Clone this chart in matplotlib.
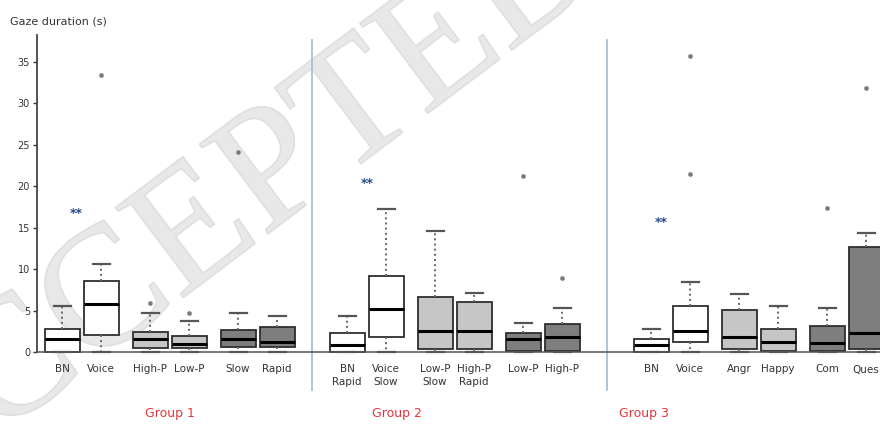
import numpy as np
import matplotlib
matplotlib.use('Agg')
import matplotlib.pyplot as plt
import matplotlib.patheffects as pe

# ---------------- data ----------------
group_names = ['Group 1', 'Group 2', 'Group 3']
labels = ['BN', 'Voice', 'High-P', 'Low-P', 'Slow', 'Rapid',
          'BN\nRapid', 'Voice\nSlow', 'Low-P\nSlow', 'High-P\nRapid', 'Low-P', 'High-P',
          'BN', 'Voice', 'Angr', 'Happy', 'Com', 'Ques']

q1 = [0.0, 2.05, 0.5, 0.45, 0.6, 0.6,
      0.05, 1.85, 0.4, 0.4, 0.1, 0.1,
      0.0, 1.17, 0.4, 0.1, 0.1, 0.4]
med = [1.62, 5.8, 1.57, 0.94, 1.62, 1.24,
       0.89, 5.19, 2.57, 2.57, 1.62, 1.77,
       0.89, 2.53, 1.85, 1.24, 1.05, 2.26]
q3 = [2.75, 8.5, 2.35, 1.93, 2.65, 3.05,
      2.33, 9.2, 6.6, 5.98, 2.33, 3.38,
      1.57, 5.55, 5.07, 2.74, 3.18, 12.6]
whis_hi = [5.5, 10.6, 4.67, 3.74, 4.67, 4.38,
           4.38, 17.2, 14.6, 7.15, 3.53, 5.27,
           2.77, 8.48, 6.96, 5.55, 5.27, 14.4]
whis_lo = [0.0] * 18
fliers = [[], [33.4], [5.87], [4.75], [24.1], [],
          [], [], [], [], [21.2], [8.89],
          [], [35.7, 21.5], [], [], [17.3], [31.8]]

# significance marks (y value) per group
star_y = [16.7, 20.3, 15.6]

# ---------------- layout ----------------
group_x0 = [62, 347, 651]
pair_step = 88
in_pair = 39
positions = []
for g0 in group_x0:
    for p in range(3):
        positions.append(g0 + p * pair_step)
        positions.append(g0 + p * pair_step + in_pair)
group_label_x = [170, 397, 644]
star_dx = [14, 20, 10]
pair_colors = ['#ffffff', '#c6c6c6', '#7e7e7e']

fig = plt.figure(figsize=(8.8, 4.26), dpi=100)

# faint watermark behind the plot
fig.text(0.258, 0.50, 'ACCEPTED', rotation=37, fontsize=124, color='#e2e2e2', alpha=0.4,
         family='Liberation Serif', ha='center', va='center', zorder=-1,
         path_effects=[pe.withStroke(linewidth=1.2, foreground='#cfcfcf', alpha=0.6)])

ax = fig.add_axes([37 / 880, 1 - 352 / 426, 1 - 37 / 880, (352 - 35) / 426])
ax.patch.set_alpha(0)

stats = []
for i in range(len(labels)):
    stats.append(dict(med=med[i], q1=q1[i], q3=q3[i], whislo=whis_lo[i],
                      whishi=whis_hi[i], fliers=fliers[i]))

res = ax.bxp(stats, positions=positions, widths=35, patch_artist=True,
             capwidths=17, manage_ticks=False,
             boxprops=dict(edgecolor='#2e2e2e', linewidth=1.3),
             medianprops=dict(color='black', linewidth=2.2),
             whiskerprops=dict(color='#666666', linestyle=':', linewidth=1.4),
             capprops=dict(color='#555555', linewidth=1.6),
             flierprops=dict(marker='o', markersize=3, markerfacecolor='#777777',
                             markeredgecolor='#999999', markeredgewidth=0.5))

for i, box in enumerate(res['boxes']):
    box.set_facecolor(pair_colors[(i % 6) // 2])
for key in res:
    for art in res[key]:
        art.set_clip_on(False)

# significance stars
for g in range(3):
    ax.text(group_x0[g] + star_dx[g], star_y[g], '**', color='#2c4a8c', fontsize=9,
            fontweight='bold', ha='center', va='center')

# group separators
for g in range(2):
    sx = (positions[6 * g + 5] + positions[6 * (g + 1)]) / 2
    ax.axvline(sx, ymin=-0.12, ymax=0.985, color='#a9bfdc', linewidth=1.3, clip_on=False)

# group labels
for g in range(3):
    ax.text(group_label_x[g], -7.4, group_names[g], color='#e8343c', fontsize=9,
            ha='center', va='center')

ax.set_xlim(37, 880)
ax.set_ylim(0, 38.2)
ax.set_xticks(positions)
ax.set_xticklabels(labels, fontsize=7.5, color='#333333', linespacing=1.35)
ax.tick_params(axis='x', length=0, pad=9)
ax.set_yticks(range(0, 40, 5))
ax.tick_params(axis='y', labelsize=7, colors='#333333', length=3, width=1, pad=2)

ax.spines['top'].set_visible(False)
ax.spines['right'].set_visible(False)
ax.spines['left'].set_color('#444444')
ax.spines['left'].set_linewidth(1.3)
ax.spines['bottom'].set_color('#555555')
ax.spines['bottom'].set_linewidth(1.1)

fig.text(10 / 880, 1 - 22 / 426, 'Gaze duration (s)', fontsize=8, color='#333333',
         ha='left', va='center')

fig.savefig('out.png', dpi=100)
